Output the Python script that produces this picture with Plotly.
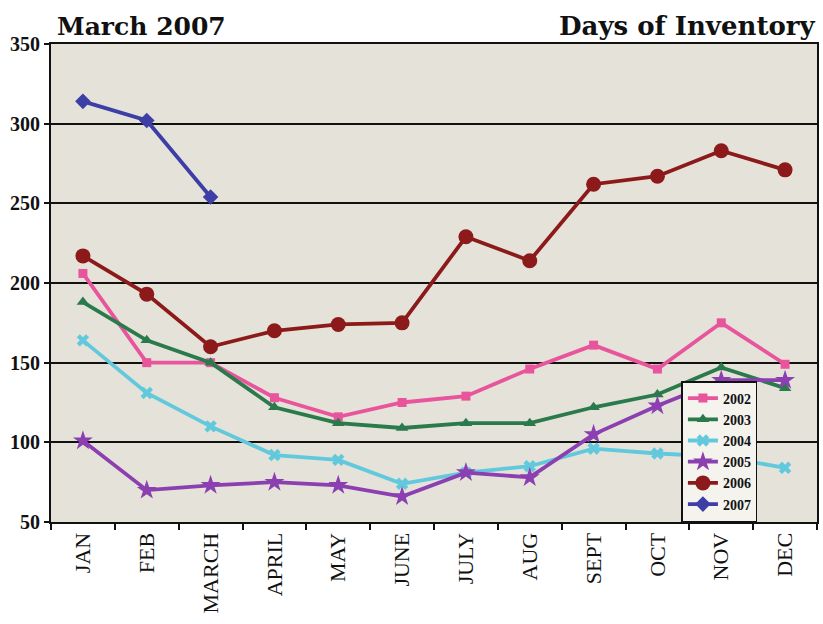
import plotly.graph_objects as go

months = ["JAN", "FEB", "MARCH", "APRIL", "MAY", "JUNE", "JULY", "AUG", "SEPT", "OCT", "NOV", "DEC"]

y2002 = [206, 150, 150, 128, 116, 125, 129, 146, 161, 146, 175, 149]
y2003 = [188, 164, 150, 122, 112, 109, 112, 112, 122, 130, 147, 134]
y2004 = [164, 131, 110, 92, 89, 74, 81, 85, 96, 93, 91, 84]
y2005 = [101, 70, 73, 75, 73, 66, 81, 78, 105, 123, 139, 139]
y2006 = [217, 193, 160, 170, 174, 175, 229, 214, 262, 267, 283, 271]
y2007 = [314, 302, 254]

series = [
    ("2002", y2002, "#e8559c", "square", 9),
    ("2003", y2003, "#2a7a4c", "triangle-up", 11),
    ("2004", y2004, "#62c9dd", "x", 11),
    ("2005", y2005, "#8b3fb0", "star", 15),
    ("2006", y2006, "#8c1a1a", "circle", 15),
    ("2007", y2007, "#3d3fa6", "diamond", 12),
]

fig = go.Figure()
for name, vals, color, sym, size in series:
    fig.add_trace(go.Scatter(
        x=months[:len(vals)], y=vals, name=name, mode="lines+markers",
        line=dict(color=color, width=3.8),
        marker=dict(symbol=sym, size=size, color=color),
    ))

serif = "Liberation Serif, DejaVu Serif, serif"
dserif = "DejaVu Serif, Liberation Serif, serif"
fig.update_layout(
    width=823, height=624,
    margin=dict(l=51, r=4, t=44, b=102),
    paper_bgcolor="white",
    plot_bgcolor="#e5e3d9",
    font=dict(family=serif, color="#111"),
    showlegend=True,
    legend=dict(
        x=0.823, y=0.0, xanchor="left", yanchor="bottom",
        bgcolor="#f4f3ee", bordercolor="#111", borderwidth=1.5,
        font=dict(family=serif, size=14, color="#111", weight="bold"),
        tracegroupgap=0, itemwidth=30,
    ),
    annotations=[
        dict(text="<b>March 2007</b>", x=0.005, y=1.003, xref="paper", yref="paper",
             xanchor="left", yanchor="bottom", showarrow=False,
             font=dict(family=dserif, size=25, color="#111")),
        dict(text="<b>Days of Inventory</b>", x=1.0, y=1.003, xref="paper", yref="paper",
             xanchor="right", yanchor="bottom", showarrow=False,
             font=dict(family=dserif, size=26, color="#111")),
    ],
)
fig.update_xaxes(
    type="category", categoryorder="array", categoryarray=months,
    range=[-0.5, 11.5],
    showline=True, linecolor="#111", linewidth=2, mirror=True,
    ticks="outside", tickson="boundaries", ticklen=6, tickcolor="#111", tickwidth=1.5,
    tickangle=-90, tickfont=dict(family=serif, size=22, color="#111"),
    showgrid=False,
)
fig.update_yaxes(
    range=[50, 350], dtick=50,
    showline=True, linecolor="#111", linewidth=2, mirror=True,
    ticks="outside", ticklen=5, tickcolor="#111", tickwidth=1.5,
    tickfont=dict(family=serif, size=20, color="#111", weight="bold"),
    showgrid=True, gridcolor="#111", gridwidth=2,
    zeroline=False,
)

fig.write_html("out.html")
